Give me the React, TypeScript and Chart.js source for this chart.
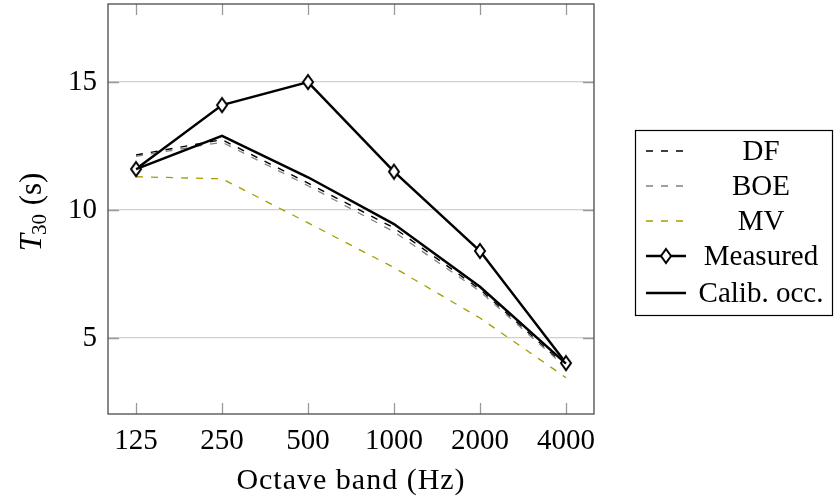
import { useEffect, useRef } from "react";
import { Chart, registerables } from "chart.js";

Chart.register(...registerables);

const bands = ["125", "250", "500", "1000", "2000", "4000"];
const yTickValues = [5, 10, 15];
const dfValues = [12.15, 12.75, 11.05, 9.3, 6.9, 3.9];
const boeValues = [12.1, 12.65, 10.95, 9.15, 6.82, 3.85];
const mvValues = [11.3, 11.22, 9.5, 7.75, 5.78, 3.45];
const measuredValues = [11.6, 14.1, 15.0, 11.5, 8.4, 4.02];
const calibValues = [11.6, 12.9, 11.28, 9.45, 7.0, 4.0];
const seriesNames = ["DF", "BOE", "MV", "Measured", "Calib. occ."];

const FONT = "'Liberation Serif', 'Times New Roman', serif";

function makeDiamond(): HTMLCanvasElement {
  const c = document.createElement("canvas");
  c.width = 16;
  c.height = 18;
  const ctx = c.getContext("2d")!;
  ctx.beginPath();
  ctx.moveTo(8, 2);
  ctx.lineTo(13, 9);
  ctx.lineTo(8, 16);
  ctx.lineTo(3, 9);
  ctx.closePath();
  ctx.fillStyle = "#ffffff";
  ctx.fill();
  ctx.lineWidth = 2;
  ctx.strokeStyle = "#000000";
  ctx.stroke();
  return c;
}

export default function App() {
  const ref = useRef<HTMLCanvasElement>(null);

  useEffect(() => {
    const canvas = ref.current!;
    const diamond = makeDiamond();
    const toPts = (arr: number[]) => arr.map((v, i) => ({ x: i, y: v }));

    const styles = [
      { color: "#000000", width: 1.4, dash: [7, 8], marker: false },
      { color: "#808080", width: 1.3, dash: [7, 8], marker: false },
      { color: "#a39d00", width: 1.3, dash: [7, 8], marker: false },
      { color: "#000000", width: 2.5, dash: [], marker: true },
      { color: "#000000", width: 2.5, dash: [], marker: false },
    ];
    const allValues = [dfValues, boeValues, mvValues, measuredValues, calibValues];

    const datasets = allValues.map((vals, i) => ({
      label: seriesNames[i],
      data: toPts(vals),
      borderColor: styles[i].color,
      borderWidth: styles[i].width,
      borderDash: styles[i].dash,
      backgroundColor: styles[i].color,
      pointRadius: styles[i].marker ? 6 : 0,
      pointStyle: styles[i].marker ? (diamond as any) : "circle",
      pointHoverRadius: 0,
      tension: 0,
      fill: false,
      order: allValues.length - i,
    }));

    const decor = {
      id: "decor",
      beforeDatasetsDraw(chart: any) {
        const ctx = chart.ctx;
        const { left, right, top, bottom } = chart.chartArea;
        const xs = chart.scales.x;
        const ys = chart.scales.y;
        ctx.save();
        ctx.strokeStyle = "#9a9a9a";
        ctx.lineWidth = 1.3;
        ctx.beginPath();
        bands.forEach((_, i) => {
          const px = Math.round(xs.getPixelForValue(i)) + 0.5;
          ctx.moveTo(px, bottom);
          ctx.lineTo(px, bottom - 11);
          ctx.moveTo(px, top);
          ctx.lineTo(px, top + 11);
        });
        yTickValues.forEach((v) => {
          const py = Math.round(ys.getPixelForValue(v)) + 0.5;
          ctx.moveTo(left, py);
          ctx.lineTo(left + 11, py);
          ctx.moveTo(right, py);
          ctx.lineTo(right - 11, py);
        });
        ctx.stroke();
        ctx.restore();
      },
      afterDraw(chart: any) {
        const ctx = chart.ctx;
        const { left, right, top, bottom } = chart.chartArea;
        ctx.save();
        ctx.strokeStyle = "#4a4a4a";
        ctx.lineWidth = 1.3;
        ctx.setLineDash([]);
        ctx.strokeRect(left, top, right - left, bottom - top);

        ctx.fillStyle = "#000";
        ctx.font = `30px ${FONT}`;
        (ctx as any).letterSpacing = "1px";
        ctx.textAlign = "center";
        ctx.textBaseline = "middle";
        ctx.fillText("Octave band (Hz)", (left + right) / 2, 481);
        (ctx as any).letterSpacing = "0px";

        ctx.save();
        ctx.translate(41, 212);
        ctx.rotate(-Math.PI / 2);
        ctx.textBaseline = "alphabetic";
        ctx.textAlign = "left";
        const tFont = `italic 31px ${FONT}`;
        const subFont = `21px ${FONT}`;
        const restFont = `31px ${FONT}`;
        ctx.font = tFont;
        const wT = ctx.measureText("T").width;
        ctx.font = subFont;
        const wSub = ctx.measureText("30").width;
        ctx.font = restFont;
        const wRest = ctx.measureText(" (s)").width;
        const total = wT + wSub + wRest;
        let x0 = -total / 2;
        ctx.font = tFont;
        ctx.fillText("T", x0, 0);
        x0 += wT - 1;
        ctx.font = subFont;
        ctx.fillText("30", x0, 5);
        x0 += wSub + 1;
        ctx.font = restFont;
        ctx.fillText(" (s)", x0, 0);
        ctx.restore();

        const lx = 635.5, ly = 130.5, lw = 197, lh = 185;
        ctx.fillStyle = "#fff";
        ctx.fillRect(lx, ly, lw, lh);
        ctx.strokeStyle = "#000";
        ctx.lineWidth = 1.2;
        ctx.strokeRect(lx, ly, lw, lh);
        const rows = [151, 186, 221, 256, 293];
        seriesNames.forEach((name, i) => {
          const st = styles[i];
          const y = rows[i];
          ctx.beginPath();
          ctx.strokeStyle = st.color;
          ctx.lineWidth = st.width;
          ctx.setLineDash(st.dash);
          ctx.moveTo(646, y);
          ctx.lineTo(686, y);
          ctx.stroke();
          ctx.setLineDash([]);
          if (st.marker) {
            ctx.drawImage(diamond, 666 - 8, y - 9);
          }
          ctx.fillStyle = "#000";
          ctx.font = `29px ${FONT}`;
          ctx.textAlign = "center";
          ctx.textBaseline = "middle";
          ctx.fillText(name, 761, y + 1);
        });
        ctx.restore();
      },
    };

    const chart = new Chart(canvas, {
      type: "line",
      data: { datasets: datasets as any },
      options: {
        animation: false,
        responsive: false,
        maintainAspectRatio: false,
        events: [],
        layout: { autoPadding: false, padding: { top: 4, right: 240, left: 0, bottom: 0 } },
        plugins: {
          legend: { display: false },
          tooltip: { enabled: false },
          title: { display: false },
        },
        scales: {
          x: {
            type: "linear",
            min: -0.326,
            max: 5.326,
            afterBuildTicks: (s: any) => {
              s.ticks = bands.map((_, i) => ({ value: i }));
            },
            afterFit: (s: any) => {
              s.height = 88;
              s.paddingLeft = 0;
              s.paddingRight = 0;
            },
            grid: { display: false, drawTicks: false },
            border: { display: false },
            ticks: {
              autoSkip: false,
              maxRotation: 0,
              padding: 10,
              color: "#000",
              font: { family: FONT, size: 29 },
              callback: (v: any) => bands[Math.round(Number(v))] ?? "",
            },
          },
          y: {
            type: "linear",
            min: 2.03,
            max: 18.05,
            afterBuildTicks: (s: any) => {
              s.ticks = yTickValues.map((v) => ({ value: v }));
            },
            afterFit: (s: any) => {
              s.width = 108;
              s.paddingTop = 0;
              s.paddingBottom = 0;
            },
            grid: { color: "#d0d0d0", lineWidth: 1.2, drawTicks: false },
            border: { display: false },
            ticks: {
              padding: 11,
              color: "#000",
              font: { family: FONT, size: 29 },
              callback: (v: any) => String(v),
            },
          },
        },
      },
      plugins: [decor],
    });
    return () => chart.destroy();
  }, []);

  return (
    <div style={{ position: "fixed", left: 0, top: 0, width: 834, height: 502, background: "#fff" }}>
      <canvas ref={ref} width={834} height={502} style={{ width: 834, height: 502, display: "block" }} />
    </div>
  );
}
